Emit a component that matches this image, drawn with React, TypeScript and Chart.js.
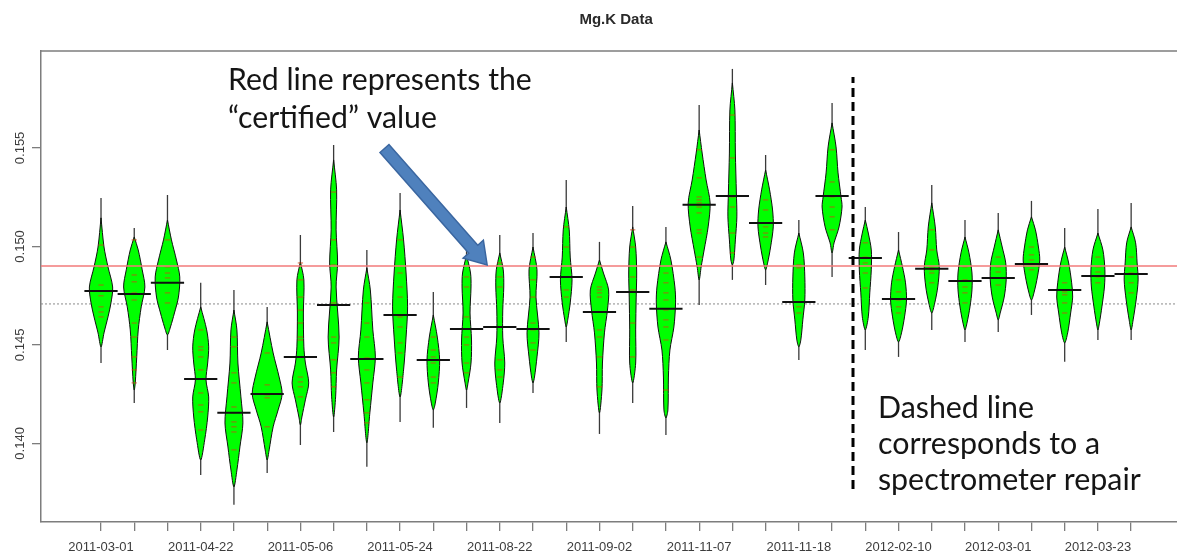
import React, { useEffect, useRef } from 'react';
import { Chart, registerables } from 'chart.js';

Chart.register(...registerables);

// ---------- data ----------
const TITLE = 'Mg.K Data';
const TICK_LABELS = [
  '2011-03-01', '2011-04-22', '2011-05-06', '2011-05-24', '2011-08-22', '2011-09-02',
  '2011-11-07', '2011-11-18', '2012-02-10', '2012-03-01', '2012-03-23',
];
const BEAN_COUNT = 32;
const LABEL_EVERY = 3;
const Y_TICKS = [0.14, 0.145, 0.15, 0.155];
const X_RANGE = [-0.806, 33.38];
const Y_RANGE = [0.13601, 0.15992];
const CERTIFIED_VALUE = 0.14901;
const OVERALL_MEAN = 0.14708;
const REPAIR_POSITION = 23.63;
const REPAIR_SPAN = [0.13769, 0.1586];

const BEAN_MEANS = [
  0.14774, 0.14759, 0.14815, 0.14327, 0.14155, 0.14251, 0.14439, 0.14703,
  0.14429, 0.14652, 0.14424, 0.14581, 0.14591, 0.14581, 0.14845, 0.14667,
  0.14769, 0.14683, 0.15211, 0.15256, 0.15119, 0.14718, 0.15256, 0.14941,
  0.14733, 0.14886, 0.14825, 0.1484, 0.14911, 0.14779, 0.1485, 0.1486,
];
const TAIL_MAX = [
  0.15246, 0.15094, 0.15261, 0.14815, 0.14779, 0.14693, 0.15058, 0.15515,
  0.14982, 0.15271, 0.14769, 0.14982, 0.15058, 0.15068, 0.15337, 0.15023,
  0.15205, 0.15099, 0.15718, 0.15901, 0.15464, 0.15134, 0.15728, 0.152,
  0.15073, 0.15312, 0.15134, 0.1517, 0.15231, 0.15094, 0.1519, 0.15221,
];
const TAIL_MIN = [
  0.14408, 0.14205, 0.14474, 0.1384, 0.13688, 0.1385, 0.13992, 0.14058,
  0.13881, 0.14109, 0.14079, 0.1418, 0.14104, 0.14256, 0.14515, 0.14048,
  0.14205, 0.14043, 0.14703, 0.1483, 0.14804, 0.14424, 0.14845, 0.14474,
  0.14439, 0.14576, 0.14515, 0.14566, 0.14652, 0.14414, 0.14525, 0.14525,
];
// [value, half-width in category units], from top to bottom
const BEAN_PROFILES: [number, number][][] = [
  [[0.15145, 0], [0.14997, 0.09], [0.14896, 0.21], [0.14794, 0.35], [0.14713, 0.3], [0.14642, 0.21], [0.14561, 0.09], [0.1449, 0]],
  [[0.15048, 0], [0.14982, 0.12], [0.14881, 0.24], [0.14794, 0.32], [0.14693, 0.21], [0.14576, 0.12], [0.14439, 0.075], [0.14307, 0.03], [0.14271, 0]],
  [[0.15134, 0], [0.15033, 0.12], [0.14931, 0.27], [0.14845, 0.37], [0.14743, 0.33], [0.14662, 0.21], [0.14591, 0.09], [0.14551, 0]],
  [[0.14693, 0], [0.14576, 0.18], [0.1449, 0.24], [0.14408, 0.21], [0.14322, 0.16], [0.14236, 0.24], [0.14134, 0.21], [0.14018, 0.12], [0.13916, 0]],
  [[0.14677, 0], [0.14576, 0.09], [0.14408, 0.12], [0.14236, 0.21], [0.14104, 0.27], [0.13982, 0.18], [0.13865, 0.09], [0.13779, 0]],
  [[0.14617, 0], [0.14459, 0.18], [0.14337, 0.36], [0.14251, 0.45], [0.1417, 0.33], [0.14084, 0.18], [0.13967, 0.06], [0.13916, 0]],
  [[0.14921, 0], [0.1483, 0.105], [0.14662, 0.09], [0.1449, 0.105], [0.14408, 0.15], [0.14307, 0.25], [0.14221, 0.15], [0.14134, 0.045], [0.14094, 0]],
  [[0.15439, 0], [0.15287, 0.09], [0.15084, 0.075], [0.14916, 0.12], [0.14794, 0.075], [0.1454, 0.165], [0.14373, 0.09], [0.14236, 0.06], [0.14134, 0]],
  [[0.14891, 0], [0.14779, 0.105], [0.14576, 0.18], [0.14439, 0.256], [0.14307, 0.18], [0.14155, 0.09], [0.14003, 0]],
  [[0.15185, 0], [0.15033, 0.105], [0.14865, 0.18], [0.14693, 0.226], [0.1454, 0.18], [0.14373, 0.105], [0.14236, 0]],
  [[0.14652, 0], [0.1454, 0.12], [0.14424, 0.19], [0.14307, 0.15], [0.14205, 0.06], [0.1417, 0]],
  [[0.14957, 0], [0.14865, 0.12], [0.14794, 0.135], [0.14662, 0.105], [0.14525, 0.15], [0.14408, 0.135], [0.14307, 0.045], [0.14271, 0]],
  [[0.14967, 0], [0.14881, 0.105], [0.14794, 0.12], [0.14677, 0.09], [0.1454, 0.09], [0.14408, 0.15], [0.14307, 0.105], [0.14205, 0]],
  [[0.14997, 0], [0.14881, 0.12], [0.14743, 0.09], [0.14561, 0.18], [0.14439, 0.12], [0.14337, 0.045], [0.14307, 0]],
  [[0.152, 0], [0.15084, 0.09], [0.14946, 0.12], [0.1483, 0.175], [0.14713, 0.12], [0.14627, 0.045], [0.14591, 0]],
  [[0.14931, 0], [0.14865, 0.12], [0.14779, 0.275], [0.14677, 0.24], [0.14561, 0.15], [0.14408, 0.09], [0.14271, 0.075], [0.14155, 0]],
  [[0.15099, 0], [0.14997, 0.09], [0.14865, 0.12], [0.14743, 0.105], [0.14576, 0.09], [0.14408, 0.09], [0.14307, 0]],
  [[0.15023, 0], [0.14931, 0.15], [0.14794, 0.27], [0.14713, 0.29], [0.14591, 0.24], [0.14474, 0.12], [0.14337, 0.075], [0.1417, 0.06], [0.14129, 0]],
  [[0.15591, 0], [0.15474, 0.09], [0.15337, 0.21], [0.15221, 0.33], [0.15099, 0.27], [0.14982, 0.15], [0.14896, 0.06], [0.1483, 0]],
  [[0.1583, 0], [0.15693, 0.075], [0.15474, 0.09], [0.15271, 0.12], [0.1515, 0.135], [0.15033, 0.09], [0.14931, 0.045], [0.14906, 0]],
  [[0.15388, 0], [0.15287, 0.12], [0.15185, 0.21], [0.15099, 0.23], [0.14997, 0.15], [0.14916, 0.06], [0.14881, 0]],
  [[0.15068, 0], [0.14967, 0.135], [0.14845, 0.18], [0.14728, 0.18], [0.14627, 0.12], [0.14525, 0.06], [0.1449, 0]],
  [[0.15627, 0], [0.15505, 0.12], [0.15373, 0.18], [0.15251, 0.27], [0.152, 0.3], [0.15099, 0.21], [0.15018, 0.06], [0.14967, 0]],
  [[0.15134, 0], [0.15068, 0.09], [0.14982, 0.18], [0.14881, 0.18], [0.14764, 0.135], [0.14642, 0.09], [0.14576, 0]],
  [[0.14982, 0], [0.14896, 0.12], [0.14815, 0.21], [0.14728, 0.24], [0.14642, 0.18], [0.14561, 0.09], [0.14515, 0]],
  [[0.15221, 0], [0.15099, 0.105], [0.14982, 0.15], [0.14896, 0.226], [0.14794, 0.18], [0.14713, 0.09], [0.14662, 0]],
  [[0.15048, 0], [0.14967, 0.12], [0.14865, 0.21], [0.14779, 0.21], [0.14693, 0.15], [0.14611, 0.06], [0.14576, 0]],
  [[0.15084, 0], [0.14997, 0.12], [0.14916, 0.226], [0.1483, 0.24], [0.14743, 0.18], [0.14662, 0.06], [0.14627, 0]],
  [[0.1515, 0], [0.15084, 0.12], [0.14997, 0.21], [0.14931, 0.25], [0.14845, 0.18], [0.14764, 0.075], [0.14728, 0]],
  [[0.14997, 0], [0.14916, 0.12], [0.14815, 0.21], [0.14743, 0.24], [0.14662, 0.18], [0.14561, 0.09], [0.1451, 0]],
  [[0.15068, 0], [0.14982, 0.15], [0.14881, 0.21], [0.14794, 0.196], [0.14693, 0.12], [0.14611, 0.045], [0.14576, 0]],
  [[0.15099, 0], [0.15018, 0.135], [0.14916, 0.18], [0.1483, 0.21], [0.14728, 0.15], [0.14627, 0.06], [0.14576, 0]],
];
// individual measurements (short red bean-lines)
const BEAN_OBSERVATIONS: number[][] = [
  [0.15007, 0.14896, 0.14804, 0.14749, 0.14693, 0.14667, 0.14642],
  [0.15033, 0.14855, 0.1482, 0.14764, 0.14728, 0.14611, 0.1454, 0.14439, 0.14373, 0.14307],
  [0.15033, 0.14896, 0.14865, 0.1484, 0.14764, 0.14713],
  [0.14576, 0.1449, 0.14474, 0.14439, 0.14373, 0.14256, 0.14195, 0.1416, 0.14068],
  [0.1454, 0.1449, 0.14358, 0.14307, 0.14185, 0.14155, 0.14109, 0.14084, 0.14058, 0.13967],
  [0.14459, 0.14297, 0.14246, 0.14231, 0.14084],
  [0.14916, 0.1483, 0.14743, 0.14677, 0.14611, 0.1454, 0.14525, 0.14337, 0.14312, 0.14287, 0.14236],
  [0.15276, 0.15033, 0.14906, 0.14713, 0.1454, 0.1451, 0.14424, 0.14358, 0.14287],
  [0.14713, 0.14611, 0.1454, 0.14434, 0.14373, 0.14307, 0.14221, 0.14155, 0.14104],
  [0.15033, 0.14865, 0.14794, 0.14743, 0.14642, 0.14591, 0.1451, 0.14459, 0.14337],
  [0.1454, 0.14474, 0.14439, 0.14408, 0.14337, 0.14307],
  [0.14845, 0.14794, 0.14642, 0.1454, 0.145, 0.14408, 0.14358],
  [0.14916, 0.14845, 0.14794, 0.14591, 0.14424, 0.14373, 0.14337],
  [0.14946, 0.1483, 0.14743, 0.14611, 0.14576, 0.1451, 0.14474],
  [0.15099, 0.14997, 0.14845, 0.14779, 0.14743],
  [0.14794, 0.14779, 0.14764, 0.14743, 0.14667, 0.14576, 0.1454, 0.14439, 0.14287],
  [0.15084, 0.14997, 0.14845, 0.14779, 0.14611, 0.14439],
  [0.14865, 0.14815, 0.14764, 0.14728, 0.14677, 0.14627, 0.14591, 0.14525, 0.14271],
  [0.1549, 0.15348, 0.15251, 0.15236, 0.15221, 0.152, 0.1517, 0.15084, 0.15068, 0.14946],
  [0.15667, 0.15449, 0.15251, 0.152, 0.15068, 0.14967],
  [0.15236, 0.15185, 0.15099, 0.15068, 0.15048],
  [0.14906, 0.14891, 0.14693, 0.14662],
  [0.1549, 0.15327, 0.15251, 0.152, 0.1515, 0.15084],
  [0.15018, 0.14946, 0.14916, 0.14865, 0.14789],
  [0.1483, 0.14769, 0.14728, 0.14693, 0.14662],
  [0.15084, 0.14982, 0.14896, 0.14881, 0.14865, 0.14815],
  [0.14896, 0.1483, 0.14794, 0.14764, 0.14713],
  [0.14946, 0.14896, 0.1487, 0.1484, 0.14804],
  [0.14997, 0.14957, 0.14931, 0.14906, 0.14881],
  [0.14815, 0.14769, 0.14754, 0.14713, 0.14662],
  [0.14946, 0.14896, 0.1487, 0.14845, 0.14815],
  [0.14946, 0.14896, 0.14865, 0.14815, 0.14764],
];
const BEANLINE_HALF = 0.08;

// annotations (data coordinates)
const NOTE_CERTIFIED = ['Red line represents the', '\u201Ccertified\u201D value'];
const NOTE_CERTIFIED_AT = { x: 4.82, y: 0.15794 };
const NOTE_REPAIR = ['Dashed line', 'corresponds to a', 'spectrometer repair'];
const NOTE_REPAIR_AT = { x: 24.38, y: 0.1413 };
const ARROW_FROM = { x: 9.53, y: 0.15497 };
const ARROW_TO = { x: 12.62, y: 0.14906 };

// ---------- helpers ----------
const AXIS_GRAY = '#7d7d7d';
const LABEL_GRAY = '#3c3c3c';
const AXIS_FONT = '"Liberation Sans", Arial, sans-serif';
const NOTE_FONT = 'Lato, "Open Sans", sans-serif';

function beanPolygon(pos: number, profile: [number, number][]) {
  const right = profile.map(([v, w]) => ({ x: pos + w, y: v }));
  const left = profile
    .slice(0, -1)
    .reverse()
    .map(([v, w]) => ({ x: pos - w, y: v }));
  return [...right, ...left];
}

function beanLines(pos: number, values: number[]) {
  const pts: { x: number; y: number | null }[] = [];
  values.forEach((v) => {
    pts.push({ x: pos - BEANLINE_HALF, y: v });
    pts.push({ x: pos + BEANLINE_HALF, y: v });
    pts.push({ x: pos, y: null });
  });
  return pts;
}

function drawArrow(ctx: CanvasRenderingContext2D, x1: number, y1: number, x2: number, y2: number) {
  const dx = x2 - x1;
  const dy = y2 - y1;
  const len = Math.hypot(dx, dy);
  const ux = dx / len;
  const uy = dy / len;
  const px = -uy;
  const py = ux;
  const sw = 6;
  const hw = 13.5;
  const hl = 21;
  const bx = x2 - ux * hl;
  const by = y2 - uy * hl;
  ctx.save();
  ctx.beginPath();
  ctx.moveTo(x1 + px * sw, y1 + py * sw);
  ctx.lineTo(bx + px * sw, by + py * sw);
  ctx.lineTo(bx + px * hw, by + py * hw);
  ctx.lineTo(x2, y2);
  ctx.lineTo(bx - px * hw, by - py * hw);
  ctx.lineTo(bx - px * sw, by - py * sw);
  ctx.lineTo(x1 - px * sw, y1 - py * sw);
  ctx.closePath();
  ctx.fillStyle = '#4f81bd';
  ctx.fill();
  ctx.lineWidth = 1.5;
  ctx.strokeStyle = '#3a66a0';
  ctx.stroke();
  ctx.restore();
}

function drawNote(
  ctx: CanvasRenderingContext2D,
  lines: string[],
  x: number,
  y: number,
  refLine: number,
  targetWidth: number,
  lineGap: number,
) {
  ctx.save();
  ctx.font = `28px ${NOTE_FONT}`;
  const measured = ctx.measureText(lines[refLine]).width;
  const size = (28 * targetWidth) / measured;
  ctx.font = `${size}px ${NOTE_FONT}`;
  ctx.fillStyle = '#151515';
  ctx.textAlign = 'left';
  ctx.textBaseline = 'alphabetic';
  lines.forEach((t, i) => ctx.fillText(t, x, y + i * lineGap));
  ctx.restore();
}

const decorPlugin = {
  id: 'beanDecor',
  afterDraw(chart: any) {
    const { ctx, chartArea, scales } = chart;
    const xs = scales.x;
    const ys = scales.y;
    // top frame line
    ctx.save();
    ctx.strokeStyle = AXIS_GRAY;
    ctx.lineWidth = 1.5;
    ctx.beginPath();
    ctx.moveTo(chartArea.left - 0.75, chartArea.top);
    ctx.lineTo(chartArea.right, chartArea.top);
    ctx.stroke();
    ctx.restore();

    // rotated y tick labels
    ctx.save();
    ctx.font = `13px ${AXIS_FONT}`;
    ctx.fillStyle = LABEL_GRAY;
    ctx.textAlign = 'center';
    ctx.textBaseline = 'middle';
    Y_TICKS.forEach((v) => {
      const py = ys.getPixelForValue(v);
      ctx.save();
      ctx.translate(ys.right - 21, py);
      ctx.rotate(-Math.PI / 2);
      ctx.fillText(v.toFixed(3), 0, 0);
      ctx.restore();
    });
    ctx.restore();

    // title centered over the beans
    ctx.save();
    ctx.font = `bold 15px ${AXIS_FONT}`;
    ctx.fillStyle = '#2a2a2a';
    ctx.textAlign = 'center';
    ctx.textBaseline = 'middle';
    ctx.fillText(TITLE, xs.getPixelForValue((1 + BEAN_COUNT) / 2), 20);
    ctx.restore();

    // annotations
    drawArrow(
      ctx,
      xs.getPixelForValue(ARROW_FROM.x),
      ys.getPixelForValue(ARROW_FROM.y),
      xs.getPixelForValue(ARROW_TO.x),
      ys.getPixelForValue(ARROW_TO.y),
    );
    drawNote(ctx, NOTE_CERTIFIED, xs.getPixelForValue(NOTE_CERTIFIED_AT.x), ys.getPixelForValue(NOTE_CERTIFIED_AT.y), 0, 304, 37.5);
    drawNote(ctx, NOTE_REPAIR, xs.getPixelForValue(NOTE_REPAIR_AT.x), ys.getPixelForValue(NOTE_REPAIR_AT.y), 2, 263, 36);
  },
};

export default function App() {
  const ref = useRef<HTMLCanvasElement | null>(null);

  useEffect(() => {
    document.body.style.margin = '0';
    document.body.style.overflow = 'hidden';
    const canvas = ref.current;
    if (!canvas) return;

    const positions = Array.from({ length: BEAN_COUNT }, (_, i) => i + 1);
    const datasets: any[] = [];

    datasets.push({
      label: 'overall mean',
      data: [
        { x: X_RANGE[0], y: OVERALL_MEAN },
        { x: X_RANGE[1], y: OVERALL_MEAN },
      ],
      borderColor: '#8a8a8a',
      borderWidth: 1,
      borderDash: [2, 2],
      pointRadius: 0,
      order: 6,
    });

    positions.forEach((pos, i) => {
      datasets.push({
        label: `tail ${pos}`,
        data: [
          { x: pos, y: TAIL_MIN[i] },
          { x: pos, y: TAIL_MAX[i] },
        ],
        borderColor: '#3a3a3a',
        borderWidth: 1.3,
        pointRadius: 0,
        order: 5,
      });
      datasets.push({
        label: `bean ${pos}`,
        data: beanPolygon(pos, BEAN_PROFILES[i]),
        borderColor: '#101010',
        borderWidth: 1,
        backgroundColor: '#00ff00',
        fill: 'shape',
        tension: 0.3,
        pointRadius: 0,
        order: 4,
      });
      datasets.push({
        label: `obs ${pos}`,
        data: beanLines(pos, BEAN_OBSERVATIONS[i]),
        borderColor: 'rgba(205,70,20,0.8)',
        borderWidth: 1,
        pointRadius: 0,
        spanGaps: false,
        order: 3,
      });
      datasets.push({
        label: `mean ${pos}`,
        data: [
          { x: pos - 0.5, y: BEAN_MEANS[i] },
          { x: pos + 0.5, y: BEAN_MEANS[i] },
        ],
        borderColor: '#111',
        borderWidth: 2,
        pointRadius: 0,
        order: 2,
      });
    });

    datasets.push({
      label: 'certified',
      data: [
        { x: X_RANGE[0], y: CERTIFIED_VALUE },
        { x: X_RANGE[1], y: CERTIFIED_VALUE },
      ],
      borderColor: '#f27a7a',
      borderWidth: 1.5,
      pointRadius: 0,
      order: 1,
    });
    datasets.push({
      label: 'repair',
      data: [
        { x: REPAIR_POSITION, y: REPAIR_SPAN[0] },
        { x: REPAIR_POSITION, y: REPAIR_SPAN[1] },
      ],
      borderColor: '#000',
      borderWidth: 3,
      borderDash: [9, 5],
      pointRadius: 0,
      order: 0,
    });

    const chart = new Chart(canvas, {
      type: 'line',
      data: { datasets },
      plugins: [decorPlugin],
      options: {
        animation: false,
        responsive: false,
        devicePixelRatio: 1,
        events: [],
        layout: { padding: { top: 51, left: 0, right: 0, bottom: 0 } },
        plugins: {
          legend: { display: false },
          tooltip: { enabled: false },
          title: { display: false },
        },
        scales: {
          x: {
            type: 'linear',
            min: X_RANGE[0],
            max: X_RANGE[1],
            afterBuildTicks: (scale: any) => {
              scale.ticks = positions.map((p) => ({ value: p }));
            },
            afterFit: (scale: any) => {
              scale.height = 33;
            },
            grid: {
              drawOnChartArea: false,
              drawTicks: true,
              tickLength: 9,
              color: AXIS_GRAY,
              lineWidth: 1.3,
            },
            border: { display: true, color: AXIS_GRAY, width: 1.5 },
            ticks: {
              autoSkip: false,
              maxRotation: 0,
              minRotation: 0,
              padding: 9,
              color: LABEL_GRAY,
              font: { family: AXIS_FONT, size: 13 },
              callback: (_v: any, index: number) =>
                index % LABEL_EVERY === 0 ? TICK_LABELS[index / LABEL_EVERY] ?? '' : '',
            },
          },
          y: {
            type: 'linear',
            min: Y_RANGE[0],
            max: Y_RANGE[1],
            afterBuildTicks: (scale: any) => {
              scale.ticks = Y_TICKS.map((v) => ({ value: v }));
            },
            afterFit: (scale: any) => {
              scale.width = 41;
            },
            grid: {
              drawOnChartArea: false,
              drawTicks: true,
              tickLength: 9,
              color: AXIS_GRAY,
              lineWidth: 1.3,
            },
            border: { display: true, color: AXIS_GRAY, width: 1.5 },
            ticks: { display: false },
          },
        },
      },
    });

    return () => chart.destroy();
  }, []);

  return (
    <div style={{ width: 1177, height: 555 }}>
      <canvas ref={ref} width={1177} height={555} style={{ display: 'block' }} />
    </div>
  );
}
